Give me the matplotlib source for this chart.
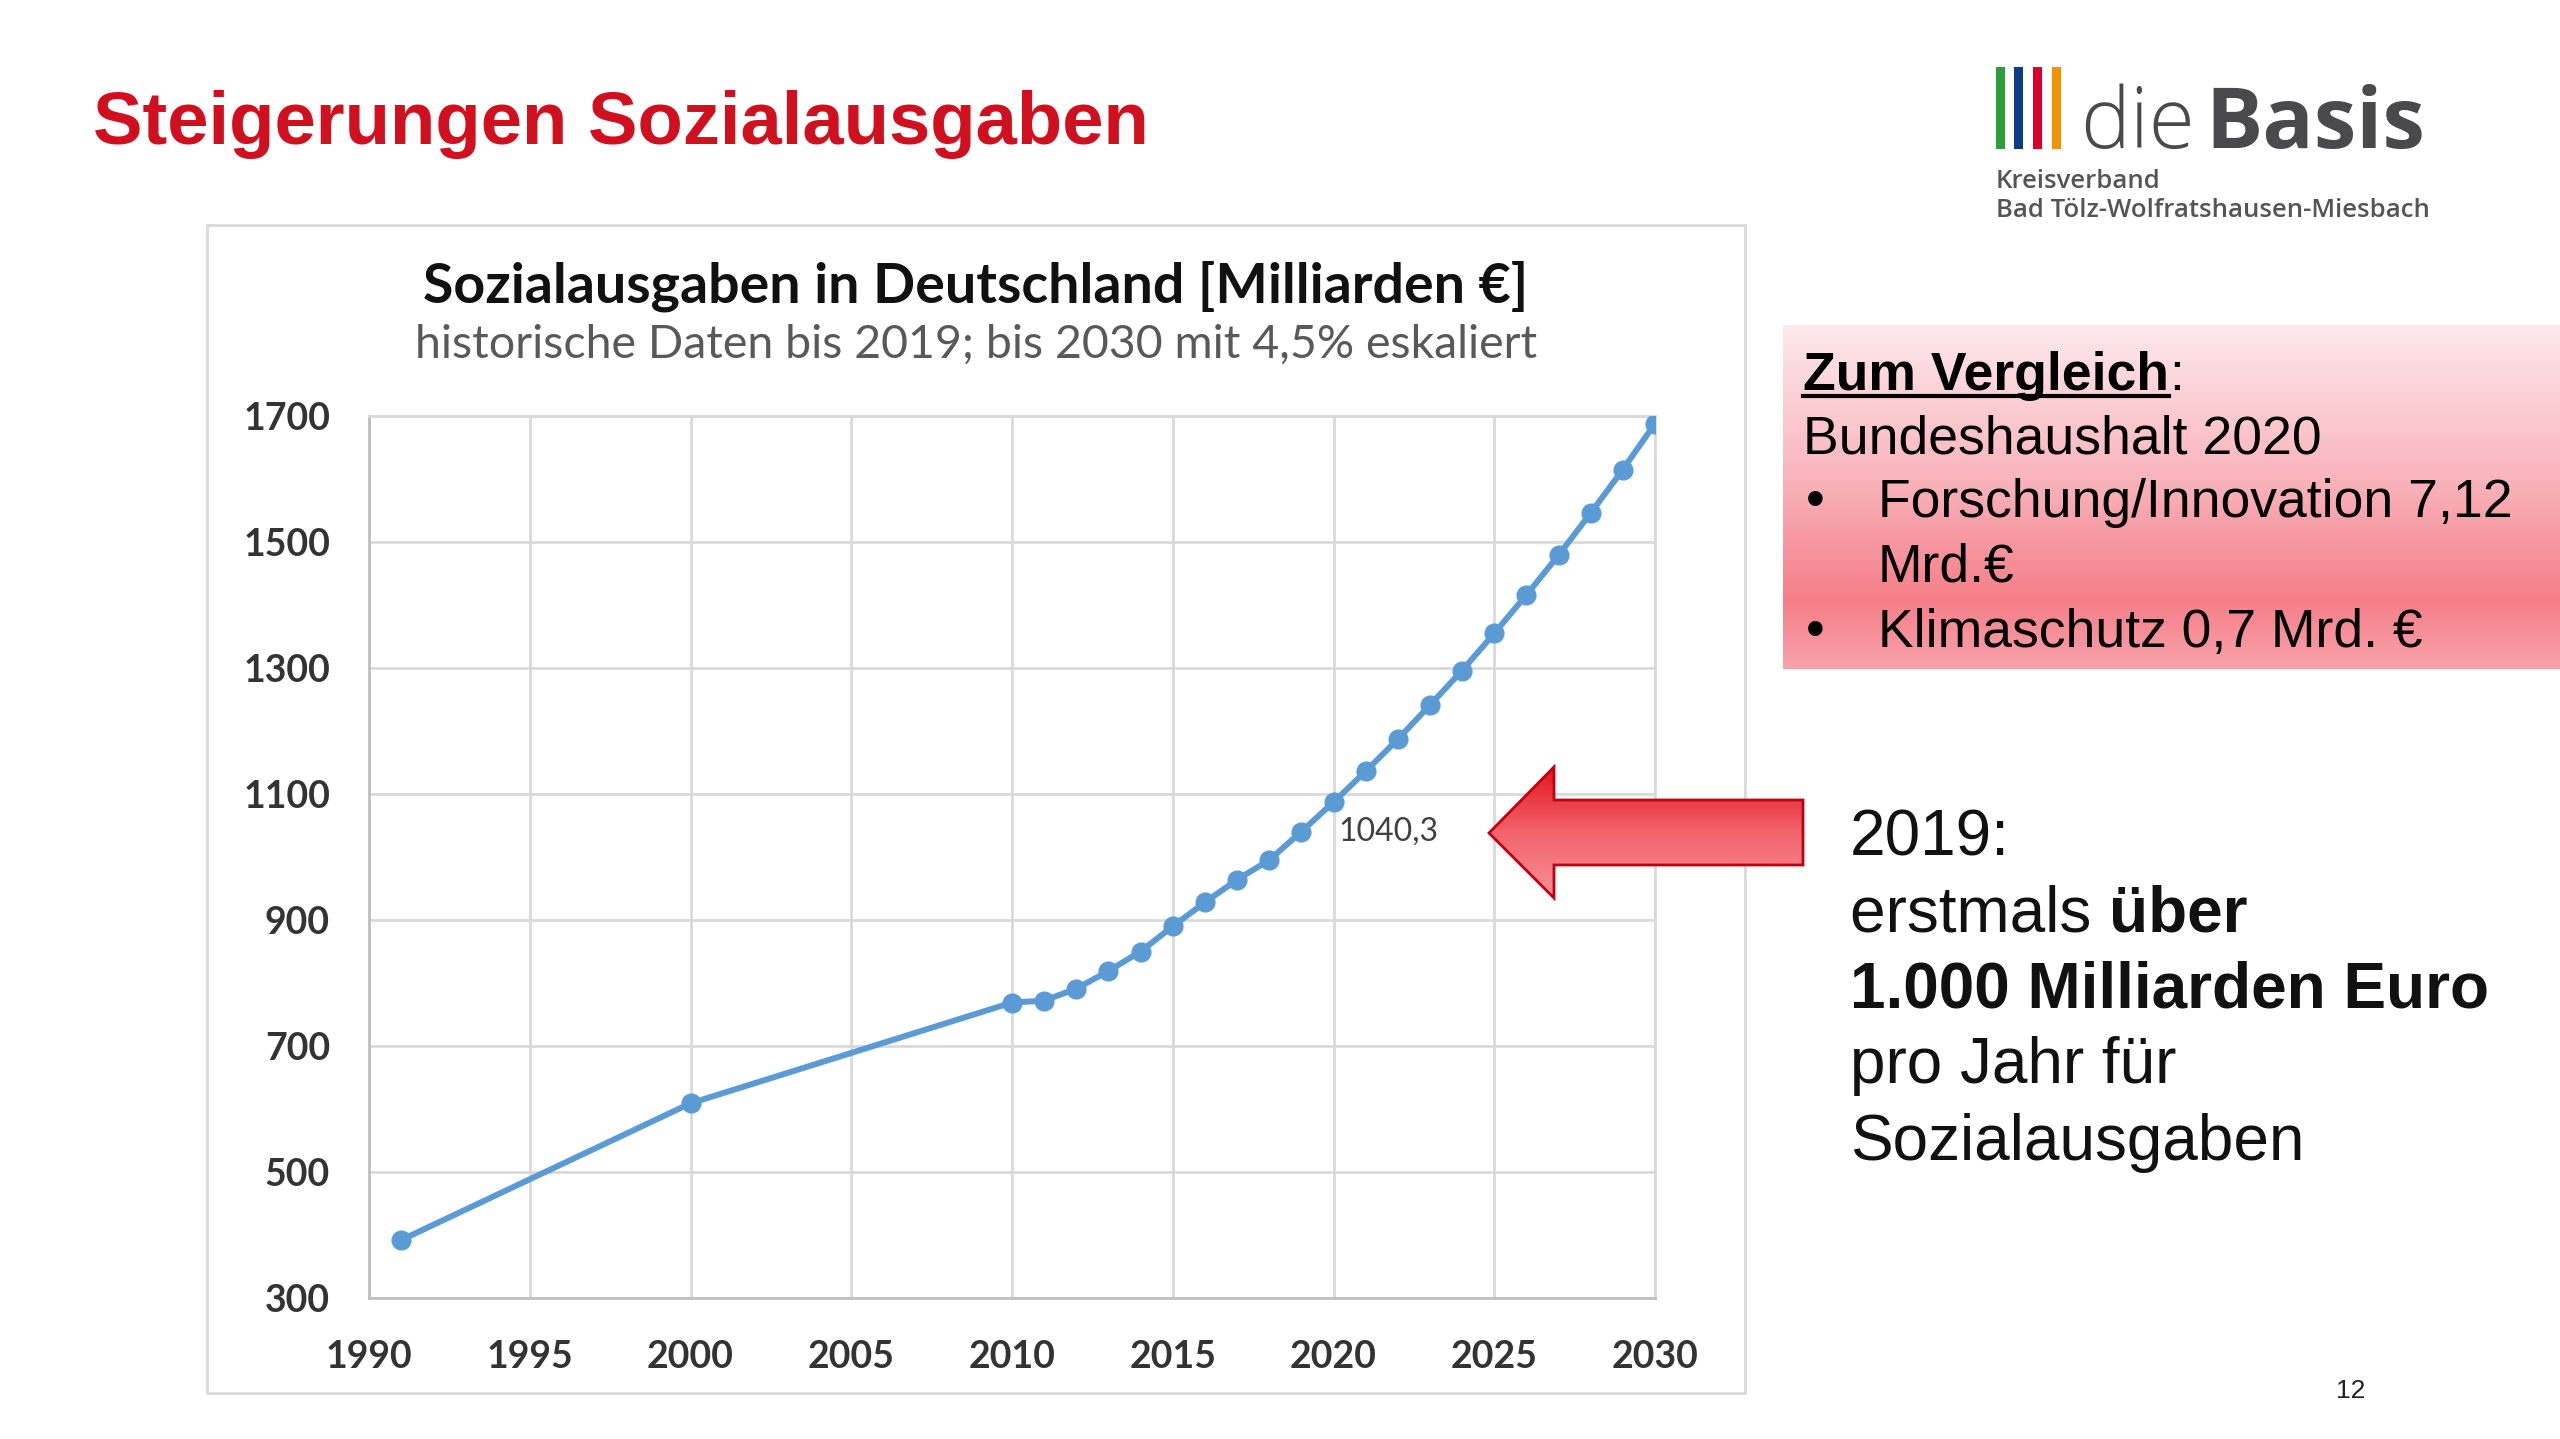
import numpy as np
import matplotlib.pyplot as plt
from matplotlib.patches import Rectangle, Polygon
from matplotlib.colors import LinearSegmentedColormap

# data
years = [1991, 2000, 2010, 2011, 2012, 2013, 2014, 2015, 2016, 2017, 2018, 2019,
         2020, 2021, 2022, 2023, 2024, 2025, 2026, 2027, 2028, 2029, 2030]
spending = [392, 609, 769, 772, 791, 819, 850, 890, 928, 964, 995, 1040.3,
            1087, 1136, 1187, 1241, 1296, 1355, 1416, 1479, 1546, 1615, 1688]
x_ticks = [1990, 1995, 2000, 2005, 2010, 2015, 2020, 2025, 2030]
y_ticks = [300, 500, 700, 900, 1100, 1300, 1500, 1700]
label_year = 2019
label_text = "1040,3"

W, H = 2560, 1439
fig = plt.figure(figsize=(W / 100, H / 100), dpi=100)
fig.patch.set_facecolor("white")
r = fig.canvas.get_renderer()


def frac(x0, y0, x1, y1):
    # pixel box (top-left origin) -> figure fraction rect
    return [x0 / W, 1 - y1 / H, (x1 - x0) / W, (y1 - y0) / H]


def fit_width(t, width):
    # rescale a text so it spans the given pixel width
    bb = t.get_window_extent(r)
    t.set_fontsize(t.get_fontsize() * width / bb.width)
    return t


# ---- chart ----
ax = fig.add_axes(frac(369, 416, 1655, 1298), zorder=2)
ax.plot(years, spending, color="#5B9BD5", lw=4.3, marker="o", ms=13.5, zorder=3)
ax.set_xlim(1990, 2030)
ax.set_ylim(300, 1700)
ax.set_xticks(x_ticks)
ax.set_yticks(y_ticks)
ax.grid(True, color="#D9D9D9", lw=2)
ax.set_axisbelow(True)
for s in ax.spines.values():
    s.set_color("#D9D9D9")
    s.set_linewidth(2)
ax.spines["left"].set_color("#BFBFBF")
ax.spines["bottom"].set_color("#BFBFBF")
ax.tick_params(length=0)
ax.tick_params(axis="x", pad=30)
ax.tick_params(axis="y", pad=28)
for lab in ax.get_xticklabels() + ax.get_yticklabels():
    lab.set_fontfamily("Lato")
    lab.set_fontweight("bold")
    lab.set_fontsize(27)
    lab.set_color("#333333")
ax.annotate(label_text, (label_year, spending[years.index(label_year)]),
            xytext=(27, 0), textcoords="offset points", va="center", ha="left",
            fontsize=23, color="#404040", family="Lato")

# ---- overlay in pixel coordinates ----
ov = fig.add_axes([0, 0, 1, 1], zorder=5)
ov.set_xlim(0, W)
ov.set_ylim(H, 0)
ov.axis("off")
ov.patch.set_visible(False)

# chart frame and titles
ov.add_patch(Rectangle((207, 225), 1538, 1168, fill=False, ec="#D9D9D9", lw=2))
ov.text(976, 286, "Sozialausgaben in Deutschland [Milliarden €]", ha="center", va="center",
        fontsize=40, fontweight="bold", family="Lato", color="#111111")
ov.text(976, 345, "historische Daten bis 2019; bis 2030 mit 4,5% eskaliert", ha="center",
        va="center", fontsize=33.5, family="Lato", color="#595959")

# slide title
ov.text(93, 144, "Steigerungen Sozialausgaben", ha="left", va="baseline", fontsize=53.5,
        fontweight="bold", family="Liberation Sans", color="#D0101E")

# logo
for x0, c in zip([1996, 2014, 2033, 2052], ["#2E9E3C", "#0A3D86", "#D9002A", "#F39200"]):
    ov.add_patch(Rectangle((x0, 67), 9, 82, color=c, lw=0))
fit_width(ov.text(2080, 148, "die", ha="left", va="baseline", fontsize=70, fontweight="light",
                  family="Open Sans", color="#4A4A4C"), 115)
fit_width(ov.text(2205, 148, "Basis", ha="left", va="baseline", fontsize=66, fontweight="bold",
                  family="Open Sans", color="#4A4A4C"), 220)
ov.text(1996, 188, "Kreisverband", ha="left", va="baseline", fontsize=18.5,
        fontweight="semibold", family="Open Sans", color="#555555")
ov.text(1996, 217, "Bad Tölz-Wolfratshausen-Miesbach", ha="left", va="baseline", fontsize=18.5,
        fontweight="semibold", family="Open Sans", color="#555555")

# pink comparison box with vertical gradient
pink = LinearSegmentedColormap.from_list(
    "pink", [(0, "#FDE9EC"), (0.45, "#F9B4BB"), (0.8, "#F57E89"), (1, "#F8A2AA")])
grad = np.linspace(0, 1, 256).reshape(-1, 1)
ov.imshow(grad, cmap=pink, aspect="auto", extent=(1783, W, 669, 325), zorder=1)

narrow = ["Liberation Sans Narrow", "Liberation Sans"]
bs = 38.5
t = ov.text(1803, 390, "Zum Vergleich", ha="left", va="baseline", fontsize=bs,
            fontweight="bold", family=narrow, color="black", zorder=3)
bb = t.get_window_extent(r)
ov.plot([bb.x0, bb.x1], [396, 396], color="black", lw=3, zorder=3)
ov.text(bb.x1, 390, ":", ha="left", va="baseline", fontsize=bs, family=narrow, zorder=3)
ov.text(1803, 453, "Bundeshaushalt 2020", ha="left", va="baseline", fontsize=bs,
        family=narrow, zorder=3)
box_lines = [(517, "Forschung/Innovation 7,12", True), (581, "Mrd.€", False),
             (647, "Klimaschutz 0,7 Mrd. €", True)]
for yb, txt, bullet in box_lines:
    if bullet:
        ov.text(1806, yb, "•", ha="left", va="baseline", fontsize=bs, family="Liberation Sans",
                zorder=3)
    ov.text(1878, yb, txt, ha="left", va="baseline", fontsize=bs, family=narrow, zorder=3)

# red arrow with gradient fill
arrow_pts = [(1489, 833), (1554, 767), (1554, 800), (1803, 800), (1803, 865),
             (1554, 865), (1554, 898)]
arrow = Polygon(arrow_pts, closed=True, fc="none", ec="#C00010", lw=2, zorder=4)
ov.add_patch(arrow)
red = LinearSegmentedColormap.from_list("red", ["#E3151E", "#F2646C", "#FA9098"])
im = ov.imshow(grad, cmap=red, aspect="auto", extent=(1489, 1803, 898, 767), zorder=3)
im.set_clip_path(arrow)

# right-hand statement
reg = dict(ha="left", va="baseline", fontsize=46, family="Liberation Sans", color="#111111")
ov.text(1850, 855, "2019:", **reg)
t = ov.text(1850, 931, "erstmals ", **reg)
bb = t.get_window_extent(r)
ov.text(bb.x1, 931, "über", fontweight="bold", **reg)
ov.text(1850, 1007, "1.000 Milliarden Euro", fontweight="bold", **reg)
ov.text(1850, 1083, "pro Jahr für", **reg)
ov.text(1850, 1160, "Sozialausgaben", **reg)

# page number
ov.text(2351, 1391, "12", ha="center", va="center", fontsize=19, family="Liberation Sans",
        color="#222222")

fig.savefig("out.png", dpi=100)
